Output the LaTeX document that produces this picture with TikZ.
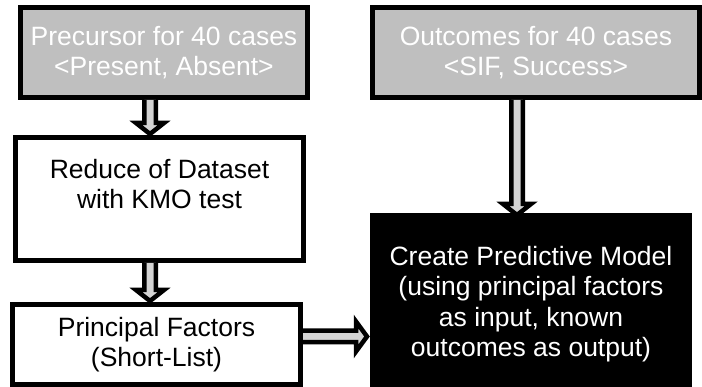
\documentclass[tikz,border=0pt]{standalone}
\usepackage{fontspec}
\setmainfont{Liberation Sans}
\usetikzlibrary{calc}
\definecolor{inputgray}{HTML}{BFBFBF}
\definecolor{arrowgray}{HTML}{D4D4D4}

\begin{document}
\begin{tikzpicture}[x = 1pt, y = 1pt]
\tikzstyle{BoxStyle} = [draw, line width = 5pt, outer sep = 0pt, inner sep = 0pt, align = center, font = \fontsize{26.5}{30.5}\selectfont]
\tikzstyle{inputStyle} = [BoxStyle, fill = inputgray, text = white]
\tikzstyle{stepStyle} = [BoxStyle, fill = white, text = black]
\tikzstyle{modelStyle} = [BoxStyle, draw = none, fill = black, text = white]
\tikzstyle{fatArrow} = [draw, fill = arrowgray, line width = 4.5pt, line join = miter]
\tikzstyle{downArrow} = [fatArrow, to path = {($(\tikztostart)+(-5.75,0)$) -- ($(\tikztotarget)+(-5.75,11)$) -- ($(\tikztotarget)+(-14,11)$) -- (\tikztotarget) -- ($(\tikztotarget)+(14,11)$) -- ($(\tikztotarget)+(5.75,11)$) -- ($(\tikztostart)+(5.75,0)$)}]
\tikzstyle{rightArrow} = [fatArrow, to path = {($(\tikztostart)+(0,5.75)$) -- ($(\tikztotarget)+(-11,5.75)$) -- ($(\tikztotarget)+(-11,15)$) -- (\tikztotarget) -- ($(\tikztotarget)+(-11,-15)$) -- ($(\tikztotarget)+(-11,-5.75)$) -- ($(\tikztostart)+(0,-5.75)$)}]
\clip (0, 0) rectangle (702, 387);
\node[inputStyle, minimum width = 287pt, minimum height = 90pt] (precursor) at (164, 334.5) {Precursor for 40 cases\\<Present, Absent>};
\node[inputStyle, minimum width = 327pt, minimum height = 90pt] (outcomes) at (536, 334.5) {Outcomes for 40 cases\\<SIF, Success>};
\node[stepStyle, minimum width = 288pt, minimum height = 123pt] (reduce) at (159.5, 188) {Reduce of Dataset\\with KMO test\\\mbox{}};
\node[stepStyle, minimum width = 288pt, minimum height = 80pt] (principal) at (156.5, 42.5) {Principal Factors\\(Short-List)};
\node[modelStyle, minimum width = 322pt, minimum height = 182pt] (model) at (531, 83) {Create Predictive Model\\(using principal factors\\as input, known\\outcomes as output)};
\draw[downArrow] ($(precursor.south)+(-14,-2.5)$) to ($(reduce.north)+(-9.5,3.5)$);
\draw[downArrow] ($(reduce.south)+(-9.5,-2.5)$) to ($(principal.north)+(-6.5,3.5)$);
\draw[downArrow] ($(outcomes.south)+(-19,-2.5)$) to ($(model.north)+(-14,-2)$);
\draw[rightArrow] ($(principal.east)+(2.5,8)$) to ($(model.west)+(-3,-32.5)$);
\end{tikzpicture}
\end{document}
